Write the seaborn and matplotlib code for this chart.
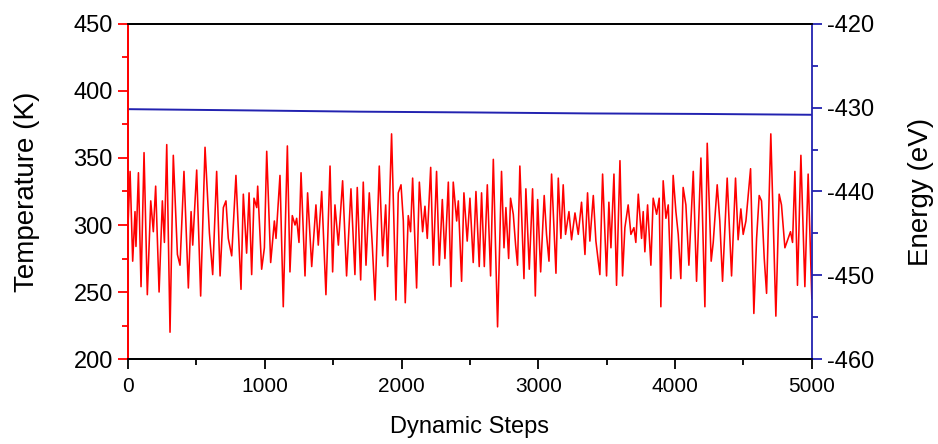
import pandas as pd
import matplotlib
matplotlib.use("Agg")
import matplotlib.pyplot as plt
from matplotlib.ticker import MultipleLocator
import seaborn as sns

# temperature trace (peaks and troughs)
steps = [0, 15, 34, 51, 58, 76, 95, 117, 141, 166, 185, 202, 227, 251, 266, 283, 307, 331, 361, 380,
         409, 441, 461, 473, 502, 531, 563, 595, 619, 648, 673, 697, 716, 733,
         758, 789, 826, 843, 867, 885, 904, 921, 941, 948, 977, 997, 1014, 1043, 1070, 1082, 1111, 1135,
         1165, 1184, 1201, 1221, 1233, 1250, 1265, 1294, 1313, 1343, 1374, 1391, 1416, 1447, 1477, 1496,
         1513, 1538,
         1569, 1598, 1630, 1659, 1676, 1701, 1720, 1740, 1764, 1786, 1806, 1837, 1862, 1884, 1898, 1927,
         1959, 1976, 1996, 2013, 2027, 2049, 2066, 2081, 2110, 2130, 2154, 2171, 2188, 2213, 2232, 2256,
         2276, 2298, 2317, 2342, 2361,
         2378, 2403, 2415, 2439, 2456, 2480, 2500, 2524, 2544, 2568, 2585, 2605, 2627, 2651, 2671, 2702,
         2731, 2749, 2763, 2783, 2797, 2817, 2834, 2848, 2865, 2895, 2909, 2934, 2958, 2978, 2995, 3017,
         3043, 3060, 3078, 3097, 3129, 3146, 3165,
         3182, 3199, 3224, 3243, 3268, 3292, 3316, 3341, 3360, 3377, 3402, 3421, 3450, 3470, 3499, 3516,
         3531, 3553, 3572, 3597, 3616, 3633, 3657, 3677, 3699, 3713, 3731, 3755, 3767, 3779, 3799, 3823,
         3840, 3865, 3884, 3896, 3913, 3933, 3950, 3969,
         3986, 4006, 4023, 4042, 4059, 4079, 4101, 4133, 4157, 4189, 4218, 4235, 4264, 4279, 4308, 4327,
         4347, 4381, 4413, 4442, 4461, 4481, 4498, 4518, 4552, 4576, 4596, 4615, 4632, 4652, 4669, 4700,
         4737, 4761, 4778, 4803, 4827, 4844, 4859, 4876, 4895, 4920, 4949, 4973, 5000]

temperature = [300, 340, 273, 310, 284, 339, 254, 354, 248, 318, 295, 329, 250, 318, 287, 360, 220, 352, 278, 270,
               340, 253, 310, 285, 341, 247, 358, 294, 263, 340, 262, 313, 318, 290,
               277, 337, 252, 323, 279, 324, 263, 320, 313, 329, 267, 283, 355, 272, 303, 290, 337, 239,
               359, 265, 307, 300, 305, 287, 339, 262, 324, 269, 315, 285, 325, 248, 344, 265,
               315, 285,
               333, 262, 327, 263, 328, 259, 332, 270, 324, 285, 244, 344, 277, 315, 269, 368,
               244, 324, 330, 303, 242, 307, 295, 335, 253, 332, 295, 314, 290, 343, 270, 340,
               270, 319, 275, 332, 254,
               332, 303, 318, 258, 324, 288, 320, 272, 325, 269, 324, 269, 330, 262, 349, 224,
               340, 283, 313, 275, 320, 308, 285, 270, 344, 260, 327, 267, 327, 247, 319, 265,
               322, 293, 273, 338, 264, 335, 290,
               330, 293, 310, 289, 309, 293, 317, 278, 324, 288, 322, 288, 263, 338, 262, 317,
               283, 338, 255, 348, 262, 298, 315, 293, 298, 287, 323, 290, 310, 280, 315, 270,
               320, 308, 320, 239, 333, 305, 315, 260,
               337, 310, 293, 260, 328, 315, 270, 340, 258, 350, 239, 361, 273, 287, 330, 303,
               258, 335, 262, 335, 289, 312, 293, 303, 342, 234, 290, 322, 318, 275, 249, 368,
               232, 323, 315, 283, 290, 295, 287, 340, 255, 352, 254, 338, 245]

# total energy, slowly drifting down
energy_steps = [0, 892, 1696, 2500, 3377, 4181, 5000]
energy = [-430.17, -430.32, -430.47, -430.56, -430.68, -430.74, -430.84]

RED = "#FF0000"
BLUE = "#2222B0"

sns.set_theme(style="ticks")
plt.rcParams['font.family'] = ['Liberation Sans', 'DejaVu Sans']
plt.rcParams['axes.unicode_minus'] = False
plt.rcParams['text.color'] = 'black'
plt.rcParams['axes.labelcolor'] = 'black'

df_t = pd.DataFrame({'step': steps, 'T': temperature})
df_e = pd.DataFrame({'step': energy_steps, 'E': energy})

fig = plt.figure(figsize=(9.38, 4.44), dpi=100)
ax = fig.add_axes([0.1365, 0.1914, 0.729, 0.7546])
ax2 = ax.twinx()

sns.lineplot(data=df_t, x='step', y='T', ax=ax, color=RED, linewidth=1.15, sort=False)
sns.lineplot(data=df_e, x='step', y='E', ax=ax2, color=BLUE, linewidth=1.4, sort=False)

ax.set_xlim(0, 5000)
ax.set_ylim(200, 450)
ax2.set_ylim(-460, -420)

ax.xaxis.set_major_locator(MultipleLocator(1000))
ax.xaxis.set_minor_locator(MultipleLocator(500))
ax.yaxis.set_major_locator(MultipleLocator(50))
ax.yaxis.set_minor_locator(MultipleLocator(25))
ax2.yaxis.set_major_locator(MultipleLocator(10))
ax2.yaxis.set_minor_locator(MultipleLocator(5))

for a in (ax, ax2):
    for s in a.spines.values():
        s.set_linewidth(1.3)
        s.set_color('black')
ax2.spines['left'].set_color(RED)
ax2.spines['right'].set_color(BLUE)
ax.spines['left'].set_color(RED)
ax.spines['right'].set_visible(False)

ax.tick_params(axis='y', which='major', direction='out', length=7, width=1.3, color=RED,
               labelcolor='black', labelsize=17, pad=4)
ax.tick_params(axis='y', which='minor', direction='out', length=4, width=1.3, color=RED)
ax.tick_params(axis='x', which='major', direction='out', length=7, width=1.3, color='black',
               labelcolor='black', labelsize=15, pad=6)
ax.tick_params(axis='x', which='minor', direction='out', length=4, width=1.3, color='black')
ax2.tick_params(axis='y', which='major', direction='out', length=7, width=1.3, color=BLUE,
                labelcolor='black', labelsize=17, pad=4)
ax2.tick_params(axis='y', which='minor', direction='out', length=4, width=1.3, color=BLUE)

ax.set_xlabel('Dynamic Steps', fontsize=17, labelpad=14)
ax.set_ylabel('Temperature (K)', fontsize=20, labelpad=24)
ax2.set_ylabel('Energy (eV)', fontsize=20, labelpad=24)

fig.savefig('out.png', dpi=100)
